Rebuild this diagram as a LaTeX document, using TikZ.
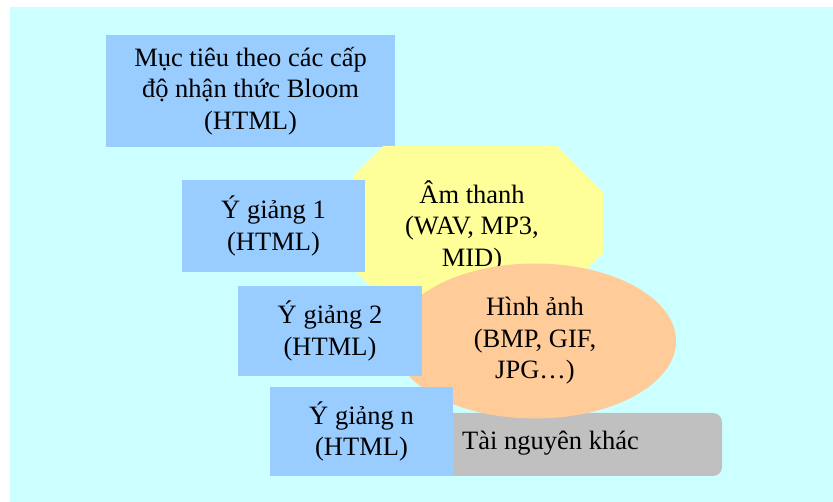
\documentclass[tikz,border=0pt]{standalone}
\usepackage{fontspec}
\setmainfont{Liberation Serif}
\usetikzlibrary{shapes.geometric}
\definecolor{bgcyan}{HTML}{CCFFFF}
\definecolor{boxblue}{HTML}{99CCFF}
\definecolor{octyellow}{HTML}{FFFF99}
\definecolor{ellorange}{HTML}{FFCC99}
\definecolor{resgrey}{HTML}{C0C0C0}
\tikzset{
  lbl/.style={font=\fontsize{26.5}{31.5}\selectfont, align=center, inner sep=0pt, text=black},
  bluebox/.style={fill=boxblue, draw=none, inner sep=0pt, font=\fontsize{26.5}{31.5}\selectfont, align=center},
}
\begin{document}
\begin{tikzpicture}[x=1pt,y=-1pt]
\useasboundingbox (0,0) rectangle (833,502);
\fill[white] (0,0) rectangle (833,502);
\fill[bgcyan] (10,7) rectangle (833,502);
% objectives box
\node[bluebox, minimum width=289pt, minimum height=112pt] (muc) at (250.5,91) {Mục tiêu theo các cấp\\độ nhận thức Bloom\\(HTML)};
% sound octagon
\fill[octyellow] (383,146) -- (557,146) -- (603,192) -- (603,253) -- (557,299) -- (383,299) -- (353,269) -- (353,176) -- cycle;
\node[lbl] (am) at (472,226) {Âm thanh\\(WAV, MP3,\\MID)};
% lecture 1
\node[bluebox, minimum width=183pt, minimum height=92pt] (y1) at (273.5,226) {Ý giảng 1\\(HTML)};
% other resources
\node[fill=resgrey, rounded corners=9pt, minimum width=282pt, minimum height=63pt, inner sep=0pt] (grey) at (581,444.5) {};
\node[lbl, anchor=west] (tai) at (462,443) {Tài nguyên khác};
% images ellipse
\node[ellipse, fill=ellorange, minimum width=282pt, minimum height=155pt, inner sep=0pt, lbl] (hinh) at (535,341) {Hình ảnh\\(BMP, GIF,\\JPG…)};
% lecture 2
\node[bluebox, minimum width=184pt, minimum height=90pt] (y2) at (330,331) {Ý giảng 2\\(HTML)};
% lecture n
\node[bluebox, minimum width=183pt, minimum height=89pt] (yn) at (361.5,431.5) {Ý giảng n\\(HTML)};
\end{tikzpicture}
\end{document}
